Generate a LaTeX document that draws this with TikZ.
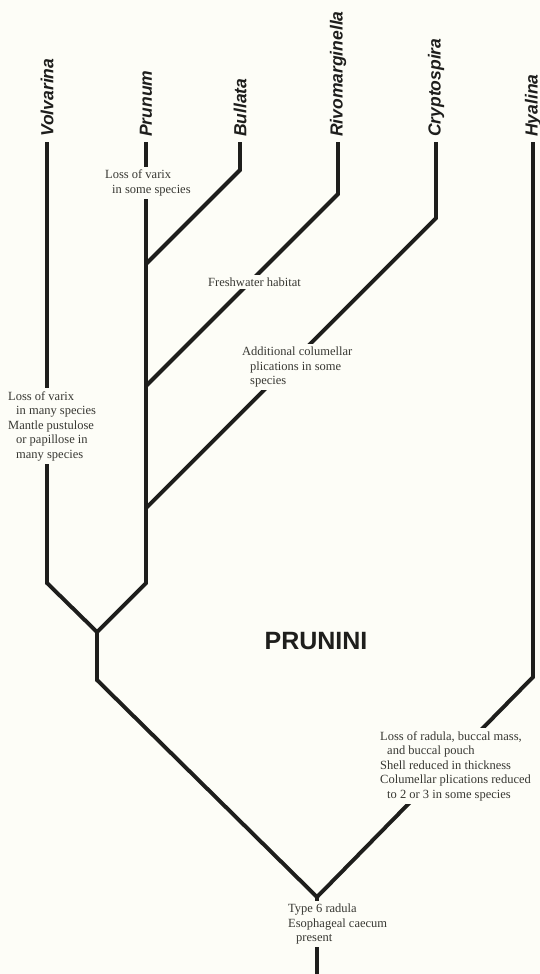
\documentclass[tikz,border=0pt]{standalone}
\usepackage{fontspec}
\setmainfont{Liberation Serif}
\setsansfont{Liberation Sans}
\definecolor{paper}{RGB}{253,253,247}
\definecolor{ink}{RGB}{30,30,28}
\definecolor{notegray}{RGB}{55,55,50}
\begin{document}
\begin{tikzpicture}[x=1pt,y=-1pt,
  branch/.style={ink,line width=3.9pt,line join=miter},
  note/.style={fill=paper,inner sep=3pt,align=left,text=notegray,
    font=\fontsize{12.5}{14.5}\selectfont},
  taxon/.style={rotate=90,anchor=west,inner sep=0pt,text=ink,
    font=\fontsize{17.5}{17.5}\selectfont\sffamily\bfseries\itshape}]
  \useasboundingbox[fill=paper] (0,0) rectangle (540,974);

  % Tips and taxon names
  \coordinate (volv-top) at (47,142);
  \coordinate (prun-top) at (146,142);
  \coordinate (bull-top) at (240,142);
  \coordinate (rivo-top) at (338,142);
  \coordinate (cryp-top) at (436,142);
  \coordinate (hyal-top) at (533,142);
  \node[taxon] (volvarina) at (47,137) {Volvarina};
  \node[taxon] (prunum) at (146,137) {Prunum};
  \node[taxon] (bullata) at (240,137) {Bullata};
  \node[taxon] (rivomarginella) at (338,137) {Rivomarginella};
  \node[taxon] (cryptospira) at (436,137) {Cryptospira};
  \node[taxon] (hyalina) at (533,137) {Hyalina};

  % Bends and junctions
  \coordinate (bull-bend) at (240,170);
  \coordinate (bull-join) at (146,264);
  \coordinate (rivo-bend) at (338,194);
  \coordinate (rivo-join) at (146,386);
  \coordinate (cryp-bend) at (436,218);
  \coordinate (cryp-join) at (146,508);
  \coordinate (volv-bend) at (47,583);
  \coordinate (prun-bend) at (146,583);
  \coordinate (fork) at (97,632);
  \coordinate (stem) at (97,680);
  \coordinate (hyal-bend) at (533,677);
  \coordinate (root) at (317,897);
  \coordinate (base) at (317,980);

  % Branches
  \draw[branch] (volv-top) -- (volv-bend) -- (fork) -- (stem) -- (root);
  \draw[branch] (prun-top) -- (prun-bend) -- (fork);
  \draw[branch] (bull-top) -- (bull-bend) -- (bull-join);
  \draw[branch] (rivo-top) -- (rivo-bend) -- (rivo-join);
  \draw[branch] (cryp-top) -- (cryp-bend) -- (cryp-join);
  \draw[branch] (hyal-top) -- (hyal-bend) -- (root);
  \draw[branch] (root) -- (base);

  % Character notes on the branches
  \node[note,anchor=west] (prun-note) at (102,183)
    {Loss of varix\\\hspace*{7pt}in some species};
  \node[note,anchor=west] (volv-note) at (5,426)
    {Loss of varix\\\hspace*{8pt}in many species\\Mantle pustulose\\
     \hspace*{8pt}or papillose in\\\hspace*{8pt}many species};
  \node[note,anchor=west] (rivo-note) at (205,282) {Freshwater habitat};
  \node[note,anchor=west] (cryp-note) at (239,367)
    {Additional columellar\\\hspace*{8pt}plications in some\\\hspace*{8pt}species};
  \node[note,anchor=west] (hyal-note) at (377,766)
    {Loss of radula, buccal mass,\\\hspace*{7pt}and buccal pouch\\
     Shell reduced in thickness\\Columellar plications reduced\\
     \hspace*{7pt}to 2 or 3 in some species};
  \node[note,anchor=west] (root-note) at (285,924)
    {Type 6 radula\\Esophageal caecum\\\hspace*{8pt}present};

  % Tribe name
  \node[text=ink,font=\fontsize{25}{25}\selectfont\sffamily\bfseries]
    (prunini) at (316,641) {PRUNINI};
\end{tikzpicture}
\end{document}
